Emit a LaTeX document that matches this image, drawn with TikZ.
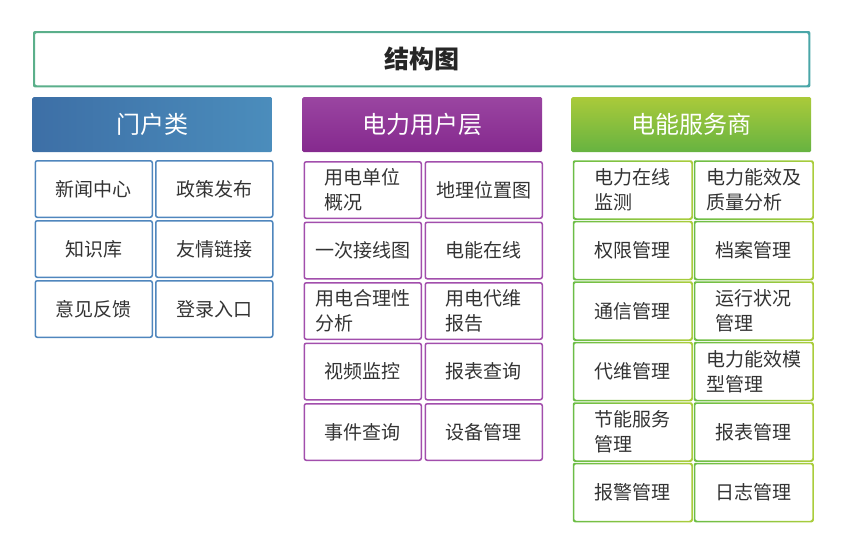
\documentclass[tikz,border=0pt]{standalone}
\usepackage{fontspec}
\setmainfont{Noto Sans CJK SC}
\definecolor{txt}{HTML}{333333}
\definecolor{bluecell}{HTML}{4F86BD}
\definecolor{purplecell}{HTML}{A24EAC}
\definecolor{greenL}{HTML}{6CBD46}
\definecolor{greenR}{HTML}{AACD3C}
\definecolor{titleL}{HTML}{5BAF8A}
\definecolor{titleR}{HTML}{4AA6A8}
\definecolor{blueL}{HTML}{3D6FA6}
\definecolor{blueR}{HTML}{4B8DBC}
\definecolor{purpleT}{HTML}{9A45A1}
\definecolor{purpleB}{HTML}{85298E}
\definecolor{greenT}{HTML}{AACA3A}
\definecolor{greenB}{HTML}{66B341}
\begin{document}
\begin{tikzpicture}[x=1pt,y=-1pt,
  cell/.style={minimum width=117pt, minimum height=56.5pt, inner sep=0pt, anchor=north west,
    font=\fontsize{19}{25}\selectfont, text=txt, align=left, rounded corners=2pt, line width=1.5pt},
  bcell/.style={cell, draw=bluecell},
  pcell/.style={cell, draw=purplecell},
  gcell/.style={cell},
  header/.style={anchor=north west, minimum width=240pt, minimum height=55pt, inner sep=0pt,
    rounded corners=1.5pt, text=white, font=\fontsize{24}{28}\selectfont},
  ring/.style={even odd rule, rounded corners=2pt}]
\useasboundingbox (0,0) rectangle (843,538);

% title
\node[anchor=north west, minimum width=777pt, minimum height=56pt, inner sep=0pt, text=black!85,
  font=\fontsize{25}{28}\selectfont\bfseries] (title) at (33,31) {结构图};
\shade[ring, left color=titleL, right color=titleR]
  (title.north west) rectangle (title.south east)
  ([shift={(2,2)}]title.north west) rectangle ([shift={(-2,-2)}]title.south east);

% headers
\node[header, left color=blueL, right color=blueR] (h1) at (32,97) {门户类};
\node[header, top color=purpleT, bottom color=purpleB] (h2) at (302,97) {电力用户层};
\node[header, top color=greenT, bottom color=greenB] (h3) at (571,97) {电能服务商};

% blue column
\node[bcell] (b11) at (34.5,160) {新闻中心};
\node[bcell] (b12) at (155,160) {政策发布};
\node[bcell] (b21) at (34.5,220) {知识库};
\node[bcell] (b22) at (155,220) {友情链接};
\node[bcell] (b31) at (34.5,280) {意见反馈};
\node[bcell] (b32) at (155,280) {登录入口};

% purple column
\node[pcell] (p11) at (303.5,161) {用电单位\\概况};
\node[pcell] (p12) at (424.5,161) {地理位置图};
\node[pcell] (p21) at (303.5,221.5) {一次接线图};
\node[pcell] (p22) at (424.5,221.5) {电能在线};
\node[pcell] (p31) at (303.5,282) {用电合理性\\分析};
\node[pcell] (p32) at (424.5,282) {用电代维\\报告};
\node[pcell] (p41) at (303.5,342.5) {视频监控};
\node[pcell] (p42) at (424.5,342.5) {报表查询};
\node[pcell] (p51) at (303.5,403) {事件查询};
\node[pcell] (p52) at (424.5,403) {设备管理};

% green column
\node[gcell] (g11) at (573.5,161) {电力在线\\监测};
\node[gcell] (g12) at (694.5,161) {电力能效及\\质量分析};
\node[gcell] (g21) at (573.5,221.5) {权限管理};
\node[gcell] (g22) at (694.5,221.5) {档案管理};
\node[gcell] (g31) at (573.5,282) {通信管理};
\node[gcell] (g32) at (694.5,282) {运行状况\\管理};
\node[gcell] (g41) at (573.5,342.5) {代维管理};
\node[gcell] (g42) at (694.5,342.5) {电力能效模\\型管理};
\node[gcell] (g51) at (573.5,403) {节能服务\\管理};
\node[gcell] (g52) at (694.5,403) {报表管理};
\node[gcell] (g61) at (573.5,463.5) {报警管理};
\node[gcell] (g62) at (694.5,463.5) {日志管理};

\foreach \n in {g11,g12,g21,g22,g31,g32,g41,g42,g51,g52,g61,g62}{
  \shade[ring, left color=greenL, right color=greenR]
    ([shift={(-0.75,-0.75)}]\n.north west) rectangle ([shift={(0.75,0.75)}]\n.south east)
    ([shift={(0.75,0.75)}]\n.north west) rectangle ([shift={(-0.75,-0.75)}]\n.south east);
}
\end{tikzpicture}
\end{document}
